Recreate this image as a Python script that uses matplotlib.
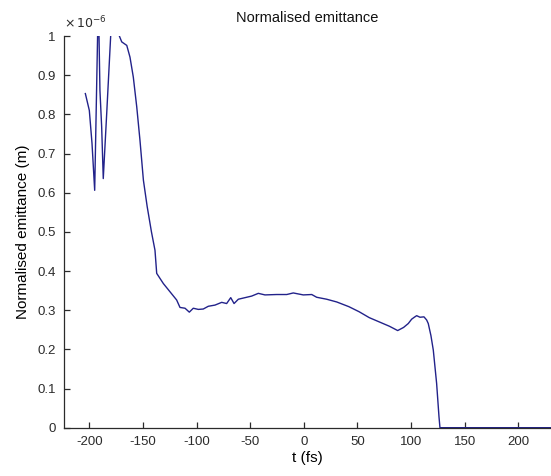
import matplotlib
matplotlib.use("Agg")
import matplotlib.pyplot as plt

# time (fs) and normalised emittance (units of 1e-6 m)
t_fs = [-203.6, -199.9, -197.4, -194.9, -191.5, -190.0, -188.4, -186.9,
        -183.7, -180.0, -177.0, -174.0, -171.9, -169.7, -165.0, -162.0,
        -158.9, -155.7, -152.7, -149.5, -146.0, -142.0, -138.7, -137.1,
        -130.9, -124.7, -118.5, -115.4, -110.7, -106.7, -103.0, -98.3,
        -93.7, -89.0, -82.8, -76.5, -71.9, -68.1, -65.0, -61.0, -54.8,
        -48.6, -42.4, -36.2, -25.3, -15.9, -9.8, -0.5, 7.4, 12.0, 21.3,
        30.7, 42.0, 51.6, 61.0, 70.4, 79.8, 87.5, 93.0, 97.4, 100.5,
        103.0, 105.2, 108.3, 112.0, 114.5, 116.0, 118.5, 120.7, 123.8,
        126.0, 126.9, 150.0, 200.0, 230.4]
emit = [0.853, 0.810, 0.726, 0.606, 1.10, 0.861, 0.768, 0.636,
        0.802, 1.0, 1.15, 1.12, 1.0, 0.985, 0.976, 0.946,
        0.895, 0.819, 0.734, 0.632, 0.565, 0.500, 0.453, 0.394,
        0.368, 0.347, 0.326, 0.307, 0.305, 0.295, 0.305, 0.302,
        0.303, 0.310, 0.313, 0.320, 0.317, 0.332, 0.317, 0.328, 0.332,
        0.336, 0.343, 0.339, 0.340, 0.340, 0.344, 0.339, 0.340, 0.333, 0.328,
        0.321, 0.309, 0.296, 0.281, 0.270, 0.259, 0.248, 0.256, 0.266, 0.277,
        0.282, 0.286, 0.282, 0.283, 0.275, 0.266, 0.235, 0.198, 0.113,
        0.028, 0.0, 0.0, 0.0, 0.0]

x_ticks = [-200, -150, -100, -50, 0, 50, 100, 150, 200]
y_ticks = [0, 0.1, 0.2, 0.3, 0.4, 0.5, 0.6, 0.7, 0.8, 0.9, 1]
y_ticklabels = ['0', '0.1', '0.2', '0.3', '0.4', '0.5', '0.6', '0.7', '0.8', '0.9', '1']

plt.rcParams['font.family'] = ['Liberation Sans', 'DejaVu Sans']
plt.rcParams['axes.unicode_minus'] = False

fig = plt.figure(figsize=(5.51, 4.76), dpi=100)
ax = fig.add_axes([64 / 551, 1 - 427.7 / 476, 1 - 64 / 551, (427.7 - 36) / 476])

ax.plot(t_fs, emit, color='#22228a', linewidth=1.0)

ax.set_xlim(-223.5, 230.4)
ax.set_ylim(0, 1)
ax.set_xticks(x_ticks)
ax.set_yticks(y_ticks)
ax.set_yticklabels(y_ticklabels)

for side in ['top', 'right']:
    ax.spines[side].set_visible(False)
for side in ['left', 'bottom']:
    ax.spines[side].set_color('#2b2b2b')
    ax.spines[side].set_linewidth(0.9)
ax.tick_params(direction='in', length=4, width=0.9, colors='#2b2b2b',
               labelsize=9.5, pad=6)

ax.set_title('Normalised emittance', fontsize=10.5, pad=10, color='#111111')
ax.set_xlabel('t (fs)', fontsize=11, labelpad=2)
ax.set_ylabel('Normalised emittance (m)', fontsize=11, labelpad=5)

fig.text(64 / 551, 1 - 28 / 476, r'$\times\,10^{-6}$', fontsize=9,
         ha='left', va='baseline', color='#2b2b2b')

fig.savefig('out.png', dpi=100)
